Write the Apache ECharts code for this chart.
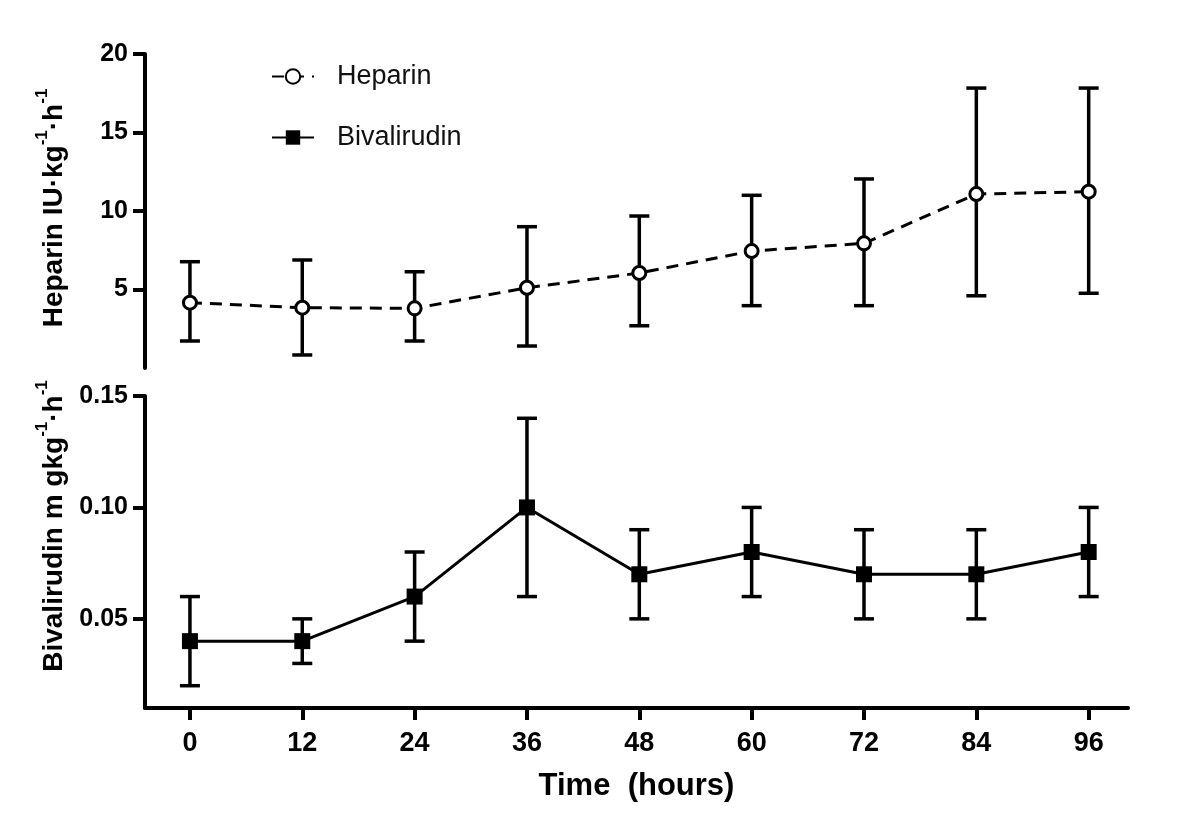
<!DOCTYPE html>
<html>
<head>
<meta charset="utf-8">
<script src="https://cdn.jsdelivr.net/npm/echarts@6/dist/echarts.min.js"></script>
<style>
html,body{margin:0;padding:0;background:#fff;}
#chart{width:1200px;height:826px;}
</style>
</head>
<body>
<div id="chart"></div>
<script>
// ---- data ----
var hours = [0, 12, 24, 36, 48, 60, 72, 84, 96];
var heparinMean  = [4.16, 3.84, 3.80, 5.11, 6.05, 7.45, 7.94, 11.08, 11.23];
var heparinUpper = [6.77, 6.88, 6.13, 9.00, 9.68, 11.00, 12.04, 17.83, 17.83];
var heparinLower = [1.72, 0.83, 1.72, 1.40, 2.69, 3.97, 3.97, 4.60, 4.76];
var bivalMean  = [0.04, 0.04, 0.06, 0.10, 0.07, 0.08, 0.07, 0.07, 0.08];
var bivalUpper = [0.06, 0.05, 0.08, 0.14, 0.09, 0.10, 0.09, 0.09, 0.10];
var bivalLower = [0.02, 0.03, 0.04, 0.06, 0.05, 0.06, 0.05, 0.05, 0.06];
var xTicks = [0, 12, 24, 36, 48, 60, 72, 84, 96];
var heparinTicks = [5, 10, 15, 20];
var bivalTicks = [0.05, 0.10, 0.15];

var FONT = 'Liberation Sans, Arial, Helvetica, sans-serif';

function pairs(xs, ys) { return xs.map(function (x, i) { return [x, ys[i]]; }); }
function triples(xs, lo, hi) { return xs.map(function (x, i) { return [x, lo[i], hi[i]]; }); }

function renderErr(params, api) {
  var x = api.value(0), lo = api.value(1), hi = api.value(2);
  var pHi = api.coord([x, hi]);
  var pLo = api.coord([x, lo]);
  var w = 10;
  var st = { stroke: '#000', lineWidth: 3.5 };
  return {
    type: 'group',
    children: [
      { type: 'line', shape: { x1: pHi[0], y1: pHi[1], x2: pLo[0], y2: pLo[1] }, style: st },
      { type: 'line', shape: { x1: pHi[0] - w, y1: pHi[1], x2: pHi[0] + w, y2: pHi[1] }, style: st },
      { type: 'line', shape: { x1: pLo[0] - w, y1: pLo[1], x2: pLo[0] + w, y2: pLo[1] }, style: st }
    ]
  };
}

var chart = echarts.init(document.getElementById('chart'), null, { renderer: 'canvas' });

var axisLineStyle = { color: '#000', width: 4 };

var option = {
  backgroundColor: '#fff',
  animation: false,
  textStyle: { fontFamily: FONT },
  grid: [
    { left: 145, right: 72, top: 54, height: 314 },
    { left: 145, right: 72, top: 396, height: 312 }
  ],
  legend: {
    orient: 'vertical',
    left: 266,
    top: 58,
    itemWidth: 42,
    itemHeight: 18,
    itemGap: 34,
    textStyle: { fontSize: 27, color: '#111', fontFamily: FONT, padding: [0, 0, 0, 18] },
    data: ['Heparin', 'Bivalirudin']
  },
  xAxis: [
    {
      type: 'value', gridIndex: 0, min: -4.8, max: 100.2, show: false
    },
    {
      type: 'value', gridIndex: 1, min: -4.8, max: 100.2,
      name: 'Time  (hours)',
      nameLocation: 'middle',
      nameGap: 63,
      nameTextStyle: { fontSize: 31, fontWeight: 'bold', color: '#000', fontFamily: FONT },
      axisLine: { show: true, onZero: false, lineStyle: axisLineStyle },
      axisTick: { show: true, length: 12, lineStyle: { color: '#000', width: 4 }, customValues: xTicks },
      axisLabel: { fontSize: 27, fontWeight: 'bold', color: '#000', margin: 22, fontFamily: FONT, customValues: xTicks },
      splitLine: { show: false }
    }
  ],
  yAxis: [
    {
      type: 'value', gridIndex: 0, min: 0, max: 20,
      axisLine: { show: true, onZero: false, lineStyle: axisLineStyle },
      axisTick: { show: true, length: 12, lineStyle: { color: '#000', width: 4 }, customValues: heparinTicks },
      axisLabel: { fontSize: 25, fontWeight: 'bold', color: '#000', margin: 17, fontFamily: FONT, customValues: heparinTicks },
      splitLine: { show: false }
    },
    {
      type: 'value', gridIndex: 1, min: 0.01, max: 0.15,
      axisLine: { show: true, onZero: false, lineStyle: axisLineStyle },
      axisTick: { show: true, length: 12, lineStyle: { color: '#000', width: 4 }, customValues: bivalTicks },
      axisLabel: {
        fontSize: 25, fontWeight: 'bold', color: '#000', margin: 17, fontFamily: FONT, customValues: bivalTicks,
        formatter: function (v) { return v.toFixed(2); }
      },
      splitLine: { show: false }
    }
  ],
  graphic: [
    {
      type: 'text', x: 51, y: 208, rotation: Math.PI / 2,
      style: {
        text: '{b|Heparin IU·kg}{s|-1}{b|·h}{s|-1}',
        align: 'center', verticalAlign: 'middle',
        rich: {
          b: { fontSize: 28, fontWeight: 'bold', fill: '#000', fontFamily: FONT, lineHeight: 34, verticalAlign: 'bottom' },
          s: { fontSize: 17, fontWeight: 'bold', fill: '#000', fontFamily: FONT, lineHeight: 20, verticalAlign: 'top' }
        }
      }
    },
    {
      type: 'text', x: 51, y: 526, rotation: Math.PI / 2,
      style: {
        text: '{b|Bivalirudin m gkg}{s|-1}{b|·h}{s|-1}',
        align: 'center', verticalAlign: 'middle',
        rich: {
          b: { fontSize: 28, fontWeight: 'bold', fill: '#000', fontFamily: FONT, lineHeight: 34, verticalAlign: 'bottom' },
          s: { fontSize: 17, fontWeight: 'bold', fill: '#000', fontFamily: FONT, lineHeight: 20, verticalAlign: 'top' }
        }
      }
    }
  ],
  series: [
    {
      type: 'custom', name: 'Heparin SD', xAxisIndex: 0, yAxisIndex: 0,
      renderItem: renderErr, encode: { x: 0, y: [1, 2] },
      data: triples(hours, heparinLower, heparinUpper), z: 1, silent: true
    },
    {
      type: 'custom', name: 'Bivalirudin SD', xAxisIndex: 1, yAxisIndex: 1,
      renderItem: renderErr, encode: { x: 0, y: [1, 2] },
      data: triples(hours, bivalLower, bivalUpper), z: 1, silent: true
    },
    {
      type: 'line', name: 'Heparin', xAxisIndex: 0, yAxisIndex: 0,
      data: pairs(hours, heparinMean),
      symbol: 'circle', symbolSize: 13,
      itemStyle: { color: '#fff', borderColor: '#000', borderWidth: 3 },
      lineStyle: { color: '#000', width: 3, type: [12, 8] },
      z: 3
    },
    {
      type: 'line', name: 'Bivalirudin', xAxisIndex: 1, yAxisIndex: 1,
      data: pairs(hours, bivalMean),
      symbol: 'rect', symbolSize: 16,
      itemStyle: { color: '#000', borderColor: '#000', borderWidth: 0 },
      lineStyle: { color: '#000', width: 3 },
      z: 3
    }
  ]
};
chart.setOption(option);
</script>
</body>
</html>
